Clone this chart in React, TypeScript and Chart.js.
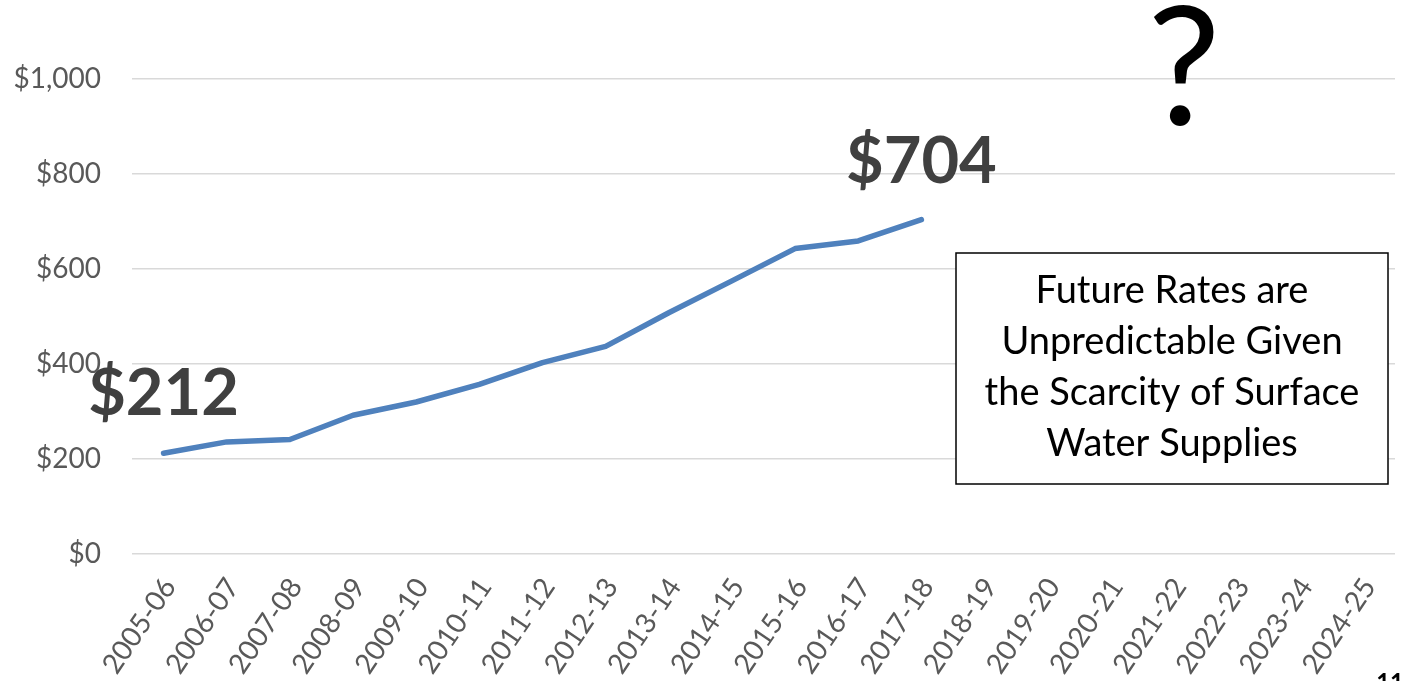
import React, { useEffect, useRef } from "react";
import { Chart, registerables } from "chart.js";

Chart.register(...registerables);

const categories = [
  "2005-06", "2006-07", "2007-08", "2008-09", "2009-10", "2010-11", "2011-12",
  "2012-13", "2013-14", "2014-15", "2015-16", "2016-17", "2017-18", "2018-19",
  "2019-20", "2020-21", "2021-22", "2022-23", "2023-24", "2024-25",
];

const rates = [212, 236, 241, 292, 320, 357, 403, 437, 508, 575, 643, 659, 704];

const yTicks = [0, 200, 400, 600, 800, 1000];

const boxLines = [
  "Future Rates are",
  "Unpredictable Given",
  "the Scarcity of Surface",
  "Water Supplies",
];

const FONT = "Lato";

const annotationPlugin = {
  id: "annotations",
  afterDraw(chart: any) {
    const ctx = chart.ctx;
    const meta = chart.getDatasetMeta(0);
    const first = meta.data[0];
    const last = meta.data[rates.length - 1];
    ctx.save();
    // value callouts
    ctx.fillStyle = "#404040";
    ctx.font = `bold 65px ${FONT}`;
    ctx.textAlign = "center";
    ctx.textBaseline = "alphabetic";
    ctx.fillText(`$${rates[0]}`, first.x, first.y - 38);
    ctx.fillText(`$${rates[rates.length - 1]}`, last.x, last.y - 37);

    // question mark
    ctx.fillStyle = "#000000";
    ctx.font = `164px ${FONT}`;
    ctx.fillText("?", 1184, 125);

    // text box
    const bx = 956, by = 253, bw = 432, bh = 231;
    ctx.fillStyle = "#ffffff";
    ctx.fillRect(bx, by, bw, bh);
    ctx.strokeStyle = "#000000";
    ctx.lineWidth = 1.5;
    ctx.strokeRect(bx, by, bw, bh);
    ctx.fillStyle = "#000000";
    ctx.font = `38px ${FONT}`;
    boxLines.forEach((line, i) => {
      ctx.fillText(line, bx + bw / 2, 303 + i * 51);
    });

    // page number
    ctx.font = `bold 24px ${FONT}`;
    ctx.textAlign = "right";
    ctx.fillText("11", 1404, 691);
    ctx.restore();
  },
};

export default function App() {
  const canvasRef = useRef<HTMLCanvasElement | null>(null);

  useEffect(() => {
    document.body.style.margin = "0";
    const canvas = canvasRef.current;
    if (!canvas) return;
    const chart = new Chart(canvas, {
      type: "line",
      data: {
        labels: categories,
        datasets: [
          {
            data: rates,
            borderColor: "#4F81BD",
            borderWidth: 5.5,
            pointRadius: 0,
            tension: 0,
            borderCapStyle: "round",
            borderJoinStyle: "round",
            fill: false,
          },
        ],
      },
      options: {
        responsive: false,
        animation: false,
        layout: { padding: { top: 79, right: 9, left: 0, bottom: 0 } },
        plugins: { legend: { display: false }, tooltip: { enabled: false } },
        scales: {
          x: {
            offset: true,
            grid: { display: false, drawTicks: false },
            border: { display: false },
            ticks: {
              color: "#595959",
              font: { family: FONT, size: 28 },
              minRotation: 56,
              maxRotation: 56,
              autoSkip: false,
              padding: 18,
              labelOffset: 6,
            },
            afterFit(scale: any) {
              scale.height = 127;
              scale.paddingLeft = 0;
              scale.paddingRight = 0;
            },
          },
          y: {
            min: 0,
            max: 1000,
            afterBuildTicks(scale: any) {
              scale.ticks = yTicks.map((v) => ({ value: v }));
            },
            grid: { color: "#D9D9D9", lineWidth: 1.5, drawTicks: false },
            border: { display: false },
            ticks: {
              color: "#595959",
              font: { family: FONT, size: 28 },
              padding: 31,
              callback: (v: any) => "$" + Number(v).toLocaleString("en-US"),
            },
            afterFit(scale: any) {
              scale.width = 132;
            },
          },
        },
      },
      plugins: [annotationPlugin],
    });
    return () => chart.destroy();
  }, []);

  return <canvas ref={canvasRef} width={1404} height={681} style={{ display: "block" }} />;
}
